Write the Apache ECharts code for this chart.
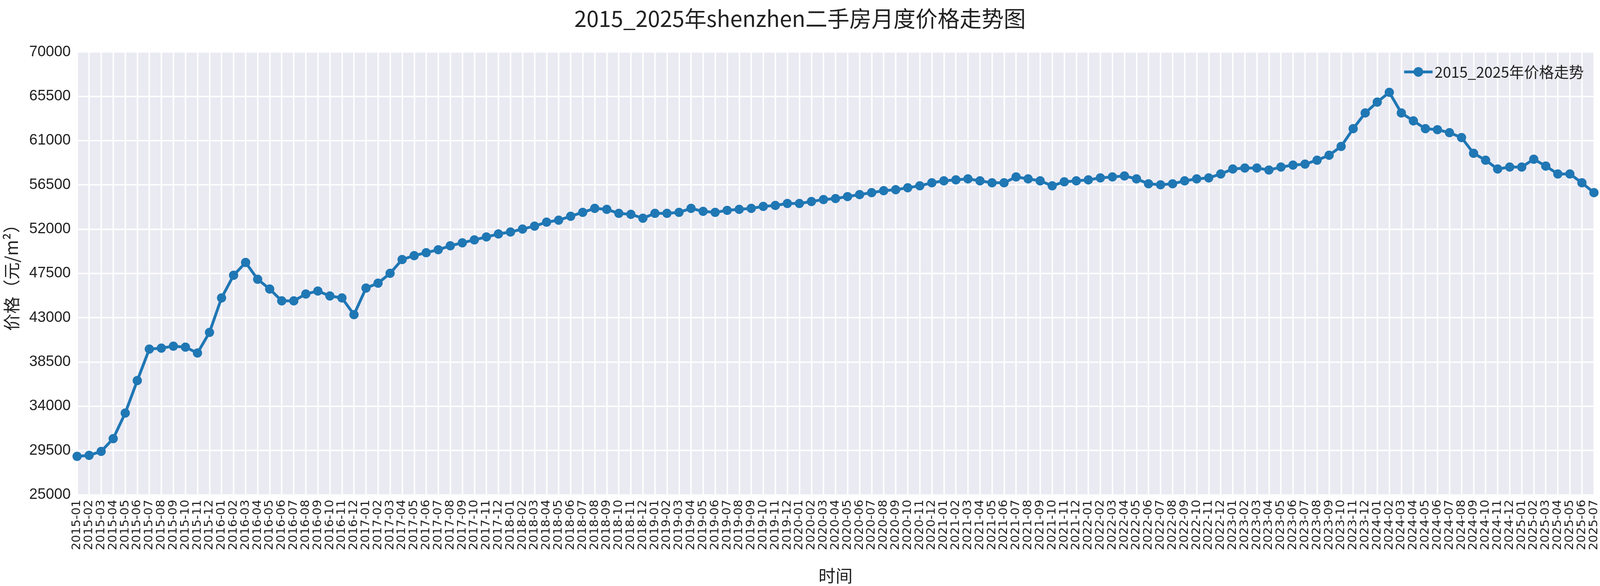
<!DOCTYPE html>
<html><head><meta charset="utf-8">
<script src="https://cdn.jsdelivr.net/npm/echarts@6/dist/echarts.min.js"></script>
<style>html,body{margin:0;background:#fff;overflow:hidden}#c{width:100vw;height:100vh}</style>
</head><body><div id="c"></div>
<script>
const months = []
for(let y=2015;y<=2025;y++) for(let m=1;m<=12;m++){ if(y===2025&&m>7) break; months.push(`${y}-${String(m).padStart(2,'0')}`) }

const prices = [
  28900,29000,29400,30700,33300,36600,39800,39900,40100,40000,39400,41500,
  45000,47300,48600,46900,45900,44700,44700,45400,45700,45200,45000,43300,
  46000,46500,47500,48900,49300,49600,49900,50300,50600,50900,51200,51500,
  51700,52000,52300,52700,52900,53300,53700,54100,54000,53600,53500,53100,
  53600,53600,53700,54100,53800,53700,53900,54000,54100,54300,54400,54600,
  54600,54800,55000,55100,55300,55500,55700,55900,56000,56200,56400,56700,
  56900,57000,57100,56900,56700,56700,57300,57100,56900,56400,56800,56900,
  57000,57200,57300,57400,57100,56600,56500,56600,56900,57100,57200,57600,
  58100,58200,58200,58000,58300,58500,58600,59000,59500,60400,62200,63800,
  64900,65900,63800,63000,62200,62100,61800,61300,59700,59000,58100,58300,
  58300,59100,58400,57600,57600,56700,55700
]

const font = '"Noto Sans CJK SC", sans-serif'
const el = document.getElementById('c')
const k = el.clientWidth / 4500   // measured on the 4500px picture
const kh = el.clientHeight / 1500
const chart = echarts.init(el)
chart.setOption({
  backgroundColor:'#fff',
  title:{text:'2015_2025年shenzhen二手房月度价格走势图',left:'center',top:14*kh,
    textStyle:{fontFamily:font,fontSize:62*k,fontWeight:'normal',color:'#222'}},
  legend:{right:40*k,top:160*kh,itemWidth:80*k,itemHeight:34*k,
    lineStyle:{width:8*k},
    textStyle:{fontFamily:font,fontSize:42*k,color:'#222'},
    data:['2015_2025年价格走势']},
  grid:{left:208*k,right:10*k,top:133*kh,bottom:228*kh,show:true,backgroundColor:'#eaeaf2',borderWidth:0},
  xAxis:{type:'category',data:months,boundaryGap:false,
    name:'时间',nameLocation:'middle',nameGap:185*kh,
    nameTextStyle:{fontFamily:font,fontSize:48*k,color:'#222'},
    axisLine:{show:false},axisTick:{show:false},
    axisLabel:{rotate:90,interval:0,fontFamily:'"DejaVu Sans", sans-serif',fontSize:34*k,color:'#222',margin:14*k},
    splitLine:{show:true,interval:0,lineStyle:{color:'#fff',width:4*k}}},
  yAxis:{type:'value',min:25000,max:70000,interval:4500,
    name:'价格（元/m²）',nameLocation:'middle',nameGap:160*k,
    nameTextStyle:{fontFamily:font,fontSize:48*k,color:'#222'},
    axisLine:{show:false},axisTick:{show:false},
    axisLabel:{formatter:v=>String(v),fontFamily:'"Liberation Sans", sans-serif',fontSize:42*k,color:'#222',margin:18*k},
    splitLine:{lineStyle:{color:'#fff',width:4*k}}},
  series:[{name:'2015_2025年价格走势',type:'line',data:prices,
    symbol:'circle',symbolSize:26*k,
    lineStyle:{color:'#1f77b4',width:8*k},itemStyle:{color:'#1f77b4'}}]
})
</script></body></html>
